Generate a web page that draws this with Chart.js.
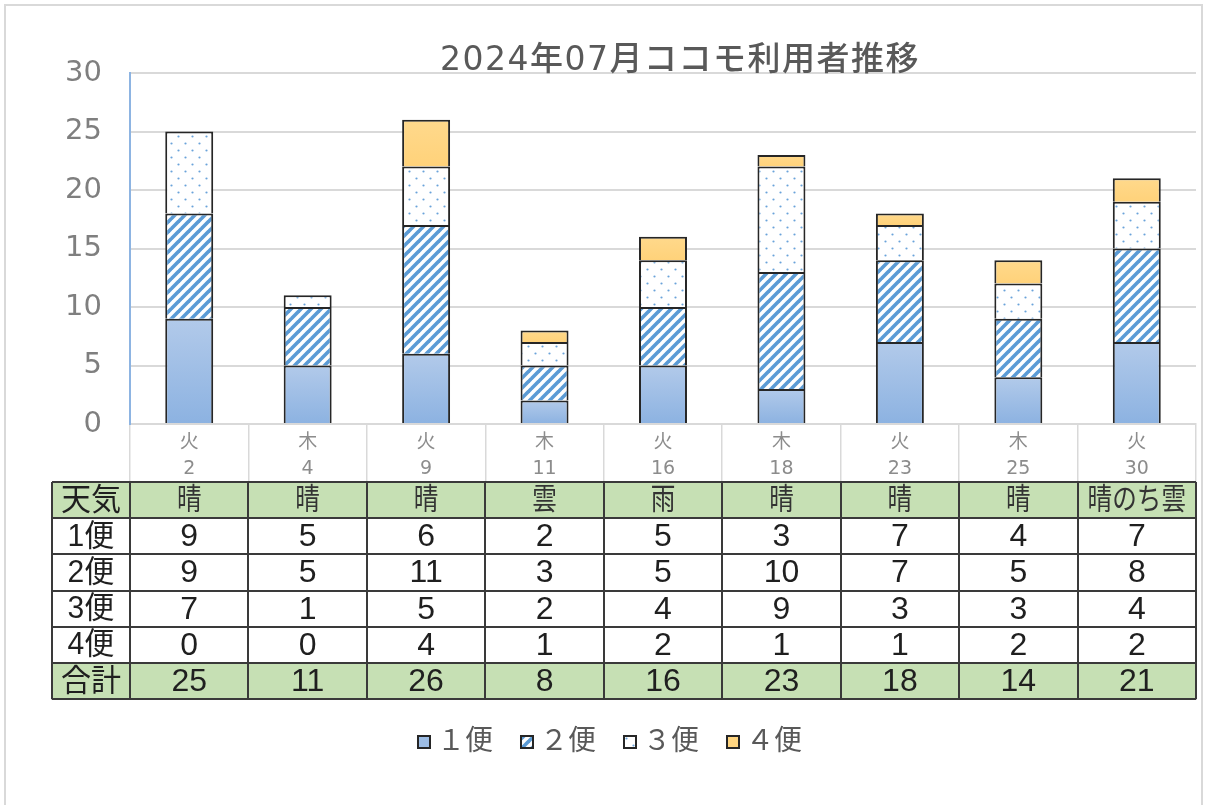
<!DOCTYPE html>
<html><head><meta charset="utf-8">
<script src="https://cdn.jsdelivr.net/npm/chart.js@4/dist/chart.umd.min.js"></script>
<style>html,body{margin:0;padding:0;background:#fff;overflow:hidden}#wrap{width:1205px;height:805px;position:relative}</style>
</head><body><div id="wrap"><canvas id="c" width="1205" height="805"></canvas></div>
<script>
const chartTitle = '2024年07月ココモ利用者推移';
const days = ['2','4','9','11','16','18','23','25','30'];
const weekdays = ['火','木','火','木','火','木','火','木','火'];
const weather = ['晴','晴','晴','雲','雨','晴','晴','晴','晴のち雲'];
const seriesNames = ['1便','2便','3便','4便'];
const legendNames = ['１便','２便','３便','４便'];
const bin1 = [9,5,6,2,5,3,7,4,7];
const bin2 = [9,5,11,3,5,10,7,5,8];
const bin3 = [7,1,5,2,4,9,3,3,4];
const bin4 = [0,0,4,1,2,1,1,2,2];
const totals = [25,11,26,8,16,23,18,14,21];
const weatherLabel = '天気';
const totalLabel = '合計';

const series = [bin1, bin2, bin3, bin4];
const FONT_CJK = '"Noto Sans CJK JP"';

function stripePattern() {
  const s = 10, c = document.createElement('canvas');
  c.width = s; c.height = s;
  const g = c.getContext('2d');
  g.fillStyle = '#ffffff'; g.fillRect(0, 0, s, s);
  g.strokeStyle = '#5b9bd5'; g.lineWidth = 3.6;
  for (const k of [0, s, 2 * s]) {
    g.beginPath(); g.moveTo(k - s - 1, s + 1); g.lineTo(k + 1, -1); g.stroke();
  }
  return g.createPattern(c, 'repeat');
}
function dotPattern() {
  const s = 14, c = document.createElement('canvas');
  c.width = s; c.height = s;
  const g = c.getContext('2d');
  g.fillStyle = '#ffffff'; g.fillRect(0, 0, s, s);
  g.fillStyle = '#6aa3da';
  for (const [x, y] of [[3.5, 3.5], [10.5, 10.5]]) {
    g.beginPath(); g.arc(x, y, 1.1, 0, Math.PI * 2); g.fill();
  }
  return g.createPattern(c, 'repeat');
}
const stripes = stripePattern();
const dots = dotPattern();

function stackStart(ds, i) {
  let s = 0; for (let k = 0; k < ds; k++) s += series[k][i]; return s;
}
function gradFill(ds, c0, c1, fallback) {
  return (ctx) => {
    if (ctx.type !== 'data') return fallback;
    const ys = ctx.chart.scales.y;
    if (!ys) return fallback;
    const i = ctx.dataIndex;
    const start = stackStart(ds, i);
    const top = ys.getPixelForValue(start + series[ds][i]);
    const bot = ys.getPixelForValue(start);
    if (!isFinite(top) || !isFinite(bot) || top === bot) return fallback;
    const g = ctx.chart.ctx.createLinearGradient(0, top, 0, bot);
    g.addColorStop(0, c0); g.addColorStop(1, c1);
    return g;
  };
}

const fills = [
  gradFill(0, '#b2caea', '#8cb2e1', '#9dbde5'),
  stripes,
  dots,
  gradFill(3, '#ffd98c', '#ffd27a', '#ffd580')
];
const legendFills = ['#9dbde5', stripes, dots, '#ffd580'];

const tablePlugin = {
  id: 'extras',
  beforeDraw(chart) {
    const c = chart.ctx;
    c.save();
    c.fillStyle = '#ffffff'; c.fillRect(0, 0, chart.width, chart.height);
    c.strokeStyle = '#d9d9d9'; c.lineWidth = 2;
    c.strokeRect(5, 5, 1197, 820);
    c.restore();
  },
  afterDraw(chart) {
    const c = chart.ctx, xs = chart.scales.x, ca = chart.chartArea;
    const n = days.length;
    // Title
    c.save();
    c.fillStyle = '#595959';
    c.font = '500 33px "DejaVu Sans", ' + FONT_CJK;
    c.textAlign = 'center'; c.textBaseline = 'middle';
    c.letterSpacing = '1.5px';
    c.fillText(chartTitle, 680, 61);
    c.restore();

    // Data table
    const left = 52, top = 482, rowH = 36.2;
    const edges = [left, ca.left];
    for (let i = 1; i < n; i++) edges.push((xs.getPixelForValue(i - 1) + xs.getPixelForValue(i)) / 2);
    edges.push(ca.right);
    const rows = [[weatherLabel, weather, true]];
    series.forEach((s, k) => rows.push([seriesNames[k], s, false]));
    rows.push([totalLabel, totals, true]);
    c.save();
    rows.forEach((r, ri) => {
      if (r[2]) { c.fillStyle = '#c6e0b4'; c.fillRect(left, top + ri * rowH, ca.right - left, rowH); }
    });
    c.strokeStyle = '#3a3a3a'; c.lineWidth = 2;
    for (let ri = 0; ri <= rows.length; ri++) {
      const y = Math.round(top + ri * rowH);
      c.beginPath(); c.moveTo(left, y); c.lineTo(ca.right, y); c.stroke();
    }
    edges.forEach((x) => {
      c.beginPath(); c.moveTo(Math.round(x), top); c.lineTo(Math.round(x), top + rows.length * rowH); c.stroke();
    });
    c.textAlign = 'center'; c.textBaseline = 'middle';
    rows.forEach((r, ri) => {
      const cy = top + ri * rowH + rowH / 2 + 1;
      const drawScaled = (txt, cx, sx) => {
        c.save(); c.translate(cx, cy); c.scale(sx, 1); c.fillText(txt, 0, 0); c.restore();
      };
      c.fillStyle = '#1f1f1f';
      c.font = '31px "Liberation Sans", ' + FONT_CJK;
      drawScaled(r[0], (edges[0] + edges[1]) / 2, 0.97);
      for (let i = 0; i < n; i++) {
        const cx = (edges[i + 1] + edges[i + 2]) / 2;
        const v = String(r[1][i]);
        if (ri === 0) { c.fillStyle = '#333333'; c.font = '30px "Liberation Sans", ' + FONT_CJK; drawScaled(v, cx, 0.82); }
        else { c.fillStyle = '#1f1f1f'; c.font = '32px "Liberation Sans", ' + FONT_CJK; drawScaled(v, cx, 1); }
      }
    });
    c.restore();

    // Legend
    c.save();
    c.font = '28px "DejaVu Sans", ' + FONT_CJK;
    c.textBaseline = 'middle';
    const box = 12, gap = 7, spacing = 28;
    const widths = legendNames.map(t => c.measureText(t).width);
    const total = widths.reduce((a, w) => a + box + gap + w, 0) + spacing * (legendNames.length - 1);
    let x = 610 - total / 2;
    const ly = 742;
    legendNames.forEach((t, k) => {
      c.fillStyle = legendFills[k];
      c.fillRect(x, ly - box / 2, box, box);
      c.strokeStyle = '#262626'; c.lineWidth = 2;
      c.strokeRect(x, ly - box / 2, box, box);
      c.fillStyle = '#595959';
      c.fillText(t, x + box + gap, ly + 1);
      x += box + gap + widths[k] + spacing;
    });
    c.restore();
  }
};

new Chart(document.getElementById('c'), {
  type: 'bar',
  data: {
    labels: weekdays.map((w, i) => [w, days[i]]),
    datasets: series.map((s, k) => ({
      label: seriesNames[k],
      data: s,
      backgroundColor: fills[k],
      borderColor: '#262626',
      borderWidth: { top: 2, left: 2, right: 2, bottom: 0 },
      borderSkipped: false,
      categoryPercentage: 1,
      barPercentage: 0.405
    }))
  },
  options: {
    responsive: false,
    animation: false,
    devicePixelRatio: 1,
    layout: { padding: { left: 0, right: 9, top: 73, bottom: 323 } },
    plugins: { legend: { display: false }, title: { display: false }, tooltip: { enabled: false } },
    scales: {
      x: {
        stacked: true,
        afterFit: (s) => { s.height = 58; },
        grid: { offset: true, drawOnChartArea: false, tickLength: 58, color: '#d9d9d9', lineWidth: 1.5 },
        border: { color: '#d9d9d9', width: 2 },
        ticks: { padding: -52, color: '#8c8c8c', maxRotation: 0, autoSkip: false,
                 font: { family: '"DejaVu Sans", ' + FONT_CJK, size: 19, lineHeight: 1.38 } }
      },
      y: {
        stacked: true,
        min: 0, max: 30,
        afterFit: (s) => { s.width = 130; },
        grid: { color: '#d9d9d9', lineWidth: 2, drawTicks: false },
        border: { color: '#8db4e2', width: 2 },
        ticks: { stepSize: 5, padding: 28, color: '#7f7f7f',
                 font: { family: '"DejaVu Sans", ' + FONT_CJK, size: 29 } }
      }
    }
  },
  plugins: [tablePlugin]
});
</script>
</body></html>
